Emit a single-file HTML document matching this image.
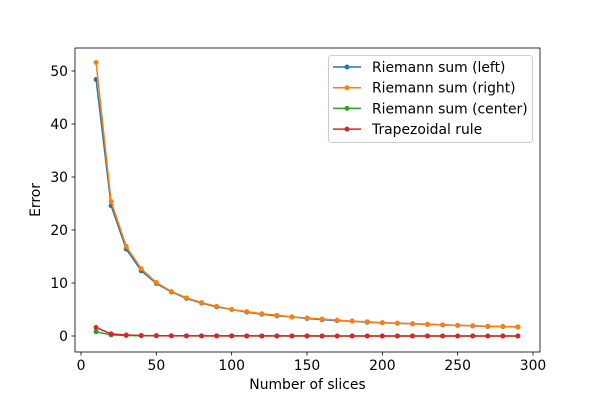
<!DOCTYPE html>
<html><head><meta charset="utf-8"><style>
body{margin:0;background:#fff;}
svg{display:block;font-family:"DejaVu Sans","Liberation Sans",sans-serif;}
</style></head><body>
<svg id="chart" width="600" height="400"></svg>
<script>
const xValues=[10,20,30,40,50,60,70,80,90,100,110,120,130,140,150,160,170,180,190,200,210,220,230,240,250,260,270,280,290];
const leftErr=[48.4,24.6,16.4,12.3,9.9,8.3,7.1,6.2,5.5,5.0,4.5,4.1,3.8,3.6,3.3,3.1,2.9,2.8,2.6,2.5,2.4,2.3,2.2,2.1,2.0,1.9,1.8,1.8,1.7];
const rightErr=[51.6,25.4,16.9,12.7,10.1,8.4,7.2,6.3,5.6,5.0,4.6,4.2,3.9,3.6,3.4,3.2,3.0,2.8,2.7,2.5,2.4,2.3,2.2,2.1,2.0,1.95,1.85,1.8,1.75];
const centerErr=[0.8,0.2,0.09,0.05,0.03,0.02,0.02,0.01,0.01,0.01,0.01,0.01,0,0,0,0,0,0,0,0,0,0,0,0,0,0,0,0,0];
const trapErr=[1.6,0.4,0.18,0.1,0.06,0.04,0.03,0.02,0.02,0.02,0.01,0.01,0.01,0.01,0.01,0,0,0,0,0,0,0,0,0,0,0,0,0,0];
const seriesNames=["Riemann sum (left)","Riemann sum (right)","Riemann sum (center)","Trapezoidal rule"];
const xTicks=[0,50,100,150,200,250,300];
const yTicks=[0,10,20,30,40,50];
const colors=["#1f77b4","#ff7f0e","#2ca02c","#d62728"];
const L=75,R=540,T=48,B=352;
const xs=v=>81+(v-0)*(533-81)/300;
const ys=v=>336-v*(336-71)/50;
const svg=document.getElementById('chart');
const NS="http://www.w3.org/2000/svg";
function mk(tag,attrs,parent){const e=document.createElementNS(NS,tag);for(const k in attrs)e.setAttribute(k,attrs[k]);(parent||svg).appendChild(e);return e;}
const series=[leftErr,rightErr,centerErr,trapErr];
const plot=mk('g',{});


series.forEach((d,i)=>{
  const g=mk('g',{},plot);
  
  
  const pts=d.map((v,j)=>xs(xValues[j]).toFixed(1)+','+ys(v).toFixed(1)).join(' ');
  const pl=mk('polyline',{points:pts,fill:'none',stroke:colors[i],'stroke-width':1.5},g);
  
  
  d.forEach((v,j)=>{const c=mk('circle',{cx:xs(xValues[j]),cy:ys(v),r:2.5,fill:colors[i]},g);
    
    });
});
const frame=mk('rect',{x:L,y:T,width:R-L,height:B-T,fill:'none',stroke:'#000','stroke-width':0.8});


xTicks.forEach(t=>{const x=xs(t);mk('line',{x1:x,x2:x,y1:B,y2:B+3.5,stroke:'#000','stroke-width':0.8});
  const tx=mk('text',{x:x,y:B+18,'text-anchor':'middle','font-size':13.9});tx.textContent=t;
  
  });
yTicks.forEach(t=>{const y=ys(t);mk('line',{x1:L,x2:L-3.5,y1:y,y2:y,stroke:'#000','stroke-width':0.8});
  const tx=mk('text',{x:L-7,y:y+5,'text-anchor':'end','font-size':13.9});tx.textContent=t;
  
  });
const xt=mk('text',{x:(L+R)/2,y:389,'text-anchor':'middle','font-size':13.9});xt.textContent='Number of slices';


const yt=mk('text',{x:0,y:0,'text-anchor':'middle','font-size':13.9,transform:'translate(40,200) rotate(-90)'});yt.textContent='Error';


const lg=mk('g',{});


mk('rect',{x:328.5,y:55.5,width:204,height:87,rx:3,fill:'#fff','fill-opacity':0.8,stroke:'#ccc'},lg);
seriesNames.forEach((n,i)=>{const y=67+i*20.7;
  const e=mk('g',{},lg);
  
  
  mk('line',{x1:333,x2:361,y1:y,y2:y,stroke:colors[i],'stroke-width':1.5},e);
  mk('circle',{cx:347,cy:y,r:2.5,fill:colors[i]},e);
  const t=mk('text',{x:372,y:y+5,'font-size':13.9},e);t.textContent=n;});
</script>
</body></html>
